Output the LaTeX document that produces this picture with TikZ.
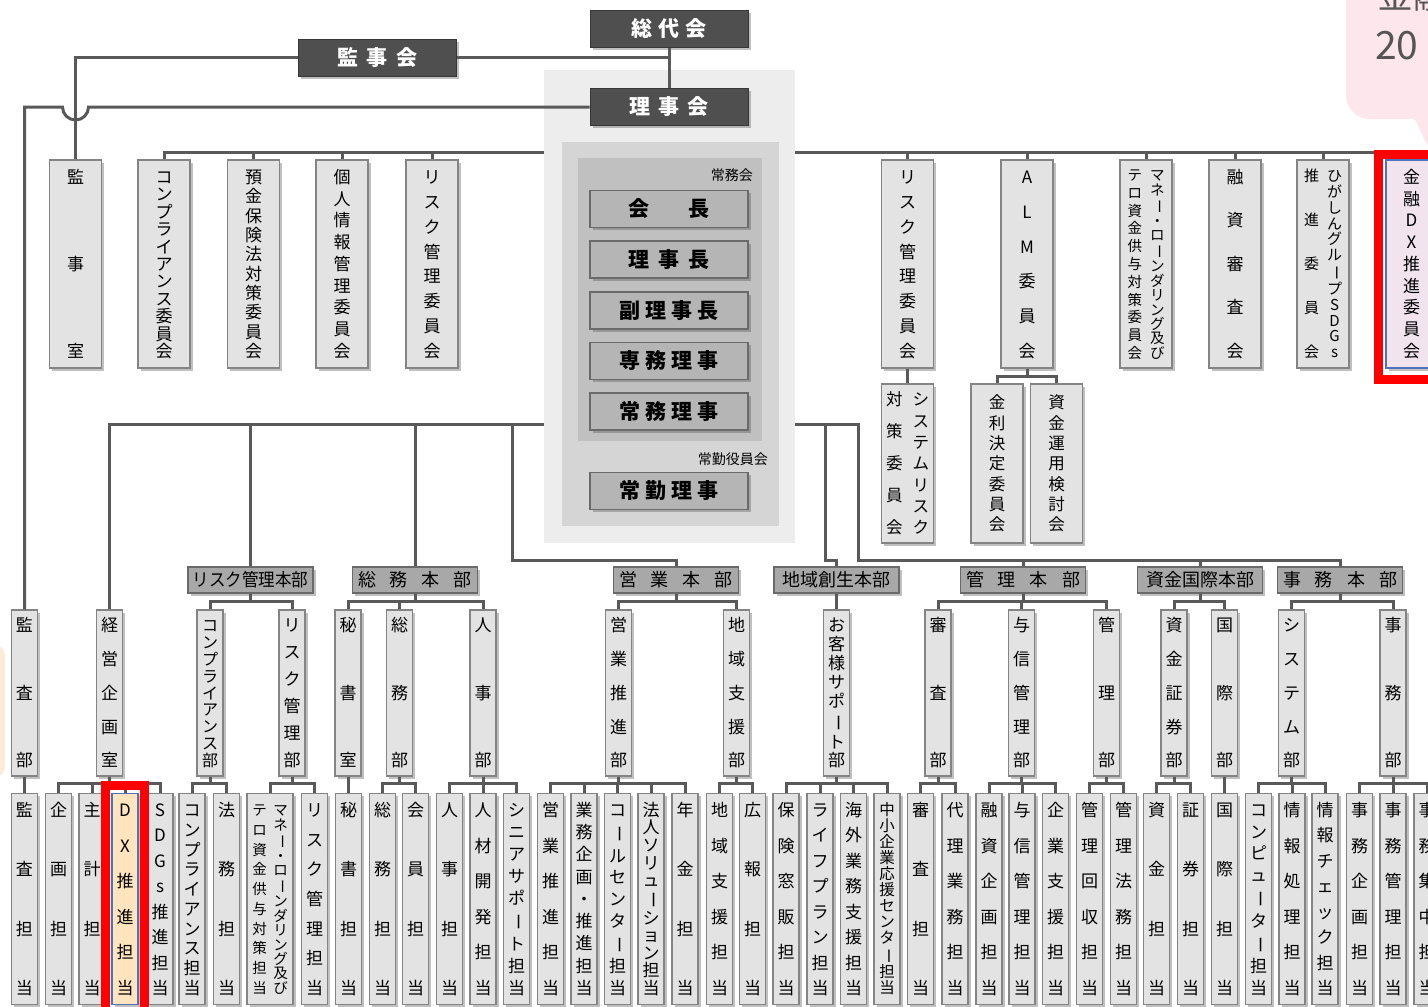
\documentclass[tikz,border=0pt]{standalone}
\usepackage{fontspec}
\setmainfont{Noto Sans CJK JP}
\usepackage{graphicx}
\usetikzlibrary{calc,positioning,shadows}
\definecolor{wire}{HTML}{595959}
\definecolor{boxfill}{HTML}{E3E3E3}
\definecolor{boxedge}{HTML}{848484}
\definecolor{darkfill}{HTML}{4F4F4F}
\definecolor{execfill}{HTML}{B5B5B5}
\definecolor{execedge}{HTML}{6A6A6A}
\definecolor{honfill}{HTML}{A8A8A8}
\definecolor{panelpale}{HTML}{EDEDED}
\definecolor{panelmid}{HTML}{D5D5D5}
\definecolor{paneldark}{HTML}{C0C0C0}
\definecolor{dxblue}{HTML}{4F72BD}
\definecolor{dxpink}{HTML}{F1E4EF}
\definecolor{dxorange}{HTML}{FFE4BD}
\definecolor{dxred}{HTML}{FF0000}
\definecolor{notepink}{HTML}{FDE6EC}
\definecolor{notepeach}{HTML}{FDEBDA}
\definecolor{notetext}{HTML}{555555}

\pgfdeclarelayer{bg}
\pgfdeclarelayer{panel}
\pgfsetlayers{bg,panel,main}

% vertical (tategaki) text: one character per line, spread over a fixed span
\newcommand\vtglyph[1]{\ifx#1ー\rotatebox[origin=c]{-90}{ー}\else#1\fi}
\newcommand\vtchar[1]{\hbox to 1em{\hss\vrule height .88em depth .12em width 0pt\relax\vtglyph{#1}\hss}}
\def\vtfirst#1{\vtchar{#1}\vtrest}
\def\vtrest#1{\ifx#1\relax\else\vskip 0pt plus 1fil minus 1fil\relax\vtchar{#1}\expandafter\vtrest\fi}
\newcommand\vt[2]{\vbox to \dimexpr#1pt+1em\relax{\offinterlineskip\expandafter\vtfirst#2\relax}}
% two columns: span, gap, left column, right column
\newcommand\vtt[4]{\hbox{\vt{#1}{#3}\hskip#2pt\vt{#1}{#4}}}

\begin{document}
\begin{tikzpicture}[x=1pt,y=-1pt,
  conn/.style={draw=wire,line width=3pt},
  boxshadow/.style={drop shadow={shadow xshift=2.5pt,shadow yshift=-2.5pt,opacity=.35,fill=black!70}},
  vbox/.style={draw=boxedge,fill=boxfill,line width=1.1pt,inner sep=0pt,text=black,boxshadow},
  cmte/.style={vbox,minimum width=52pt,minimum height=208pt,font=\fontsize{17}{17}\selectfont},
  subc/.style={vbox,minimum width=52pt,minimum height=159pt,font=\fontsize{16.5}{16.5}\selectfont},
  dept/.style={vbox,minimum width=26pt,minimum height=166pt,font=\fontsize{17}{17}\selectfont},
  task/.style={vbox,minimum width=26pt,minimum height=211pt,font=\fontsize{17}{17}\selectfont},
  topbox/.style={fill=darkfill,draw=darkfill!70!black,line width=1pt,text=white,minimum width=158pt,minimum height=37pt,inner sep=0pt,font=\fontsize{21}{21}\selectfont\bfseries,boxshadow},
  execbox/.style={fill=execfill,draw=execedge,line width=1.2pt,minimum width=158pt,minimum height=37pt,inner sep=0pt,font=\fontsize{21}{21}\selectfont\bfseries,boxshadow},
  honbu/.style={fill=honfill,draw=execedge,line width=1.1pt,minimum width=125pt,minimum height=26pt,inner sep=0pt,font=\fontsize{18}{18}\selectfont,boxshadow},
  tag/.style={font=\fontsize{14}{14}\selectfont,inner sep=0pt},
  redframe/.style={draw=dxred,line width=9pt},
]
\useasboundingbox (0,0) rectangle (1428,1007);

% BACKGROUND + NOTES
\begin{pgfonlayer}{bg}
\fill[white] (0,0) rectangle (1428,1007);
\fill[notepink,rounded corners=24pt] (1346,-40) rectangle (1480,119);
\fill[notepink] (1410,110) -- (1440,110) -- (1428,146) -- cycle;
\fill[notepeach,rounded corners=12pt] (-50,644) rectangle (5,778);
\end{pgfonlayer}
\node[font=\fontsize{36}{36}\selectfont,text=notetext,anchor=base west,inner sep=0pt] (notehead) at (1377,8) {金融};
\node[font=\fontsize{39}{39}\selectfont,text=notetext,anchor=base west,inner sep=0pt] (noteyear) at (1375,59) {20};

% EXECUTIVE PANEL
\begin{pgfonlayer}{panel}
\fill[panelpale] (544,70) rectangle (795,543);
\fill[panelmid] (562,142) rectangle (779,526);
\fill[paneldark] (578,158) rectangle (762,441);
\end{pgfonlayer}
\node[tag,anchor=east] (jomukai) at (753,175) {常務会};
\node[tag,anchor=east] (jokinkai) at (768,459) {常勤役員会};

% TOP BODIES
\node[topbox] (soudai) at (669,28.5) {総\hspace{6pt}代\hspace{6pt}会};
\node[topbox] (kanjikai) at (377.5,57.5) {監\hspace{9pt}事\hspace{9pt}会};
\node[topbox] (riji) at (669,107) {理\hspace{8pt}事\hspace{8pt}会};
\node[execbox] (kaicho) at (669,209) {会\hspace{40pt}長};
\node[execbox] (richo) at (669,259.5) {理\hspace{9pt}事\hspace{9pt}長};
\node[execbox] (fuku) at (669,310.5) {副\hspace{5pt}理\hspace{5pt}事\hspace{5pt}長};
\node[execbox] (senmu) at (669,361) {専\hspace{5pt}務\hspace{5pt}理\hspace{5pt}事};
\node[execbox] (jomu) at (669,411.5) {常\hspace{5pt}務\hspace{5pt}理\hspace{5pt}事};
\node[execbox] (jokin) at (669,491) {常\hspace{5pt}勤\hspace{5pt}理\hspace{5pt}事};

% COMMITTEES
\node[cmte] (kjs) at (75.5,264) {\vt{172}{監事室}};
\node[cmte] (cpc) at (164,264) {\vt{172}{コンプライアンス委員会}};
\node[cmte] (ykc) at (253.5,264) {\vt{172}{預金保険法対策委員会}};
\node[cmte] (kjc) at (342,264) {\vt{172}{個人情報管理委員会}};
\node[cmte] (rkc) at (432,264) {\vt{172}{リスク管理委員会}};
\node[cmte] (rkc2) at (907.5,264) {\vt{172}{リスク管理委員会}};
\node[cmte] (almc) at (1027,264) {\vt{172}{ALM委員会}};
\node[cmte,font=\fontsize{14.5}{14.5}\selectfont] (amlc) at (1146,264) {\vtt{176}{8}{テロ資金供与対策委員会}{マネー・ローンダリング及び}};
\node[cmte] (yss) at (1235,264) {\vt{172}{融資審査会}};
\node[cmte,font=\fontsize{15}{15}\selectfont] (sdgc) at (1323,264) {\vtt{174}{8}{推進委員会}{ひがしんグループSDGs}};
\node[cmte,draw=dxblue,fill=dxpink,minimum width=51pt] (dxc) at (1411.5,264) {\vt{172}{金融DX推進委員会}};
\node[subc] (sysr) at (907.5,463.5) {\vtt{126}{10}{対策委員会}{システムリスク}};
\node[subc] (kinri) at (997,463.5) {\vt{120}{金利決定委員会}};
\node[subc] (shikinc) at (1056.5,463.5) {\vt{120}{資金運用検討会}};

% HEADQUARTERS
\node[honbu] (riskhon) at (250.5,580) {\scalebox{.92}[1]{リスク管理本部}};
\node[honbu] (soumuhon) at (415,580) {総\hspace{14pt}務\hspace{14pt}本\hspace{14pt}部};
\node[honbu] (eigyohon) at (676,580) {営\hspace{14pt}業\hspace{14pt}本\hspace{14pt}部};
\node[honbu] (chiikihon) at (836.5,580) {地域創生本部};
\node[honbu] (kanrihon) at (1023,580) {管\hspace{14pt}理\hspace{14pt}本\hspace{14pt}部};
\node[honbu] (shikinhon) at (1200,580) {資金国際本部};
\node[honbu] (jimuhon) at (1340,580) {事\hspace{14pt}務\hspace{14pt}本\hspace{14pt}部};

% DEPARTMENTS
\node[dept] (kansabu) at (24.5,693) {\vt{133}{監査部}};
\node[dept] (keieishitsu) at (109.5,693) {\vt{133}{経営企画室}};
\node[dept,font=\fontsize{16}{16}\selectfont] (compbu) at (210,693) {\vt{133}{コンプライアンス部}};
\node[dept] (riskbu) at (292,693) {\vt{133}{リスク管理部}};
\node[dept] (hishoshitsu) at (348,693) {\vt{133}{秘書室}};
\node[dept] (soumubu) at (399.5,693) {\vt{133}{総務部}};
\node[dept] (jinjibu) at (483,693) {\vt{133}{人事部}};
\node[dept] (eigyobu) at (618.5,693) {\vt{133}{営業推進部}};
\node[dept] (chiikibu) at (736.5,693) {\vt{133}{地域支援部}};
\node[dept] (okyakubu) at (836.5,693) {\vt{133}{お客様サポート部}};
\node[dept] (shinsabu) at (938,693) {\vt{133}{審査部}};
\node[dept] (yoshinbu) at (1021.5,693) {\vt{133}{与信管理部}};
\node[dept] (kanribu) at (1106.5,693) {\vt{133}{管理部}};
\node[dept] (shikinbu) at (1174,693) {\vt{133}{資金証券部}};
\node[dept] (kokusaibu) at (1224.5,693) {\vt{133}{国際部}};
\node[dept] (systembu) at (1291.5,693) {\vt{133}{システム部}};
\node[dept] (jimubu) at (1393,693) {\vt{133}{事務部}};

% SECTIONS (tanto)
\node[task] (tkansa) at (24.5,899) {\vt{176}{監査担当}};
\node[task] (tkikaku) at (58.5,899) {\vt{176}{企画担当}};
\node[task] (tshukei) at (92,899) {\vt{176}{主計担当}};
\node[task,draw=dxblue,fill=dxorange] (tdx) at (125,899) {\vt{176}{DX推進担当}};
\node[task] (tsdgs) at (160,899) {\vt{176}{SDGs推進担当}};
\node[task] (tcomp) at (192,899) {\vt{176}{コンプライアンス担当}};
\node[task] (thoumu) at (226.5,899) {\vt{176}{法務担当}};
\node[task,minimum width=46pt,font=\fontsize{14.5}{14.5}\selectfont] (taml) at (270,899) {\vtt{176}{6.5}{テロ資金供与対策担当}{マネー・ローンダリング及び}};
\node[task] (trisk) at (314.5,899) {\vt{176}{リスク管理担当}};
\node[task] (thisho) at (348.5,899) {\vt{176}{秘書担当}};
\node[task] (tsoumu) at (382.5,899) {\vt{176}{総務担当}};
\node[task] (tkaiin) at (415.5,899) {\vt{176}{会員担当}};
\node[task] (tjinji) at (449.5,899) {\vt{176}{人事担当}};
\node[task] (tjinzai) at (483,899) {\vt{176}{人材開発担当}};
\node[task] (tsenior) at (516.5,899) {\vt{176}{シニアサポート担当}};
\node[task] (teigyo) at (550.5,899) {\vt{176}{営業推進担当}};
\node[task] (tgyomu) at (584,899) {\vt{176}{業務企画・推進担当}};
\node[task] (tcall) at (617.5,899) {\vt{176}{コールセンター担当}};
\node[task] (thoujin) at (651,899) {\vt{176}{法人ソリューション担当}};
\node[task] (tnenkin) at (685,899) {\vt{176}{年金担当}};
\node[task] (tchiiki) at (719.5,899) {\vt{176}{地域支援担当}};
\node[task] (tkouhou) at (752.5,899) {\vt{176}{広報担当}};
\node[task] (thoken) at (786,899) {\vt{176}{保険窓販担当}};
\node[task] (tlife) at (820,899) {\vt{176}{ライフプラン担当}};
\node[task] (tkaigai) at (853.5,899) {\vt{176}{海外業務支援担当}};
\node[task,font=\fontsize{15.5}{15.5}\selectfont] (tchusho) at (887,899) {\vt{176}{中小企業応援センター担当}};
\node[task] (tshinsa) at (920.5,899) {\vt{176}{審査担当}};
\node[task] (tdairi) at (955,899) {\vt{176}{代理業務担当}};
\node[task] (tyushi) at (989,899) {\vt{176}{融資企画担当}};
\node[task] (tyoshin) at (1022,899) {\vt{176}{与信管理担当}};
\node[task] (tkigyo) at (1055.5,899) {\vt{176}{企業支援担当}};
\node[task] (tkaishu) at (1089.5,899) {\vt{176}{管理回収担当}};
\node[task] (tkanhou) at (1123.5,899) {\vt{176}{管理法務担当}};
\node[task] (tshikin) at (1156.5,899) {\vt{176}{資金担当}};
\node[task] (tshoken) at (1190.5,899) {\vt{176}{証券担当}};
\node[task] (tkokusai) at (1224.5,899) {\vt{176}{国際担当}};
\node[task] (tcomputer) at (1258.5,899) {\vt{176}{コンピューター担当}};
\node[task] (tjoho) at (1292,899) {\vt{176}{情報処理担当}};
\node[task] (tcheck) at (1325,899) {\vt{176}{情報チェック担当}};
\node[task] (tjkikaku) at (1359.5,899) {\vt{176}{事務企画担当}};
\node[task] (tjkanri) at (1393,899) {\vt{176}{事務管理担当}};
\node[task] (tjshuchu) at (1427,899) {\vt{176}{事務集中担当}};

% BUS LEVELS
\coordinate (cbus) at (0,152);
\coordinate (cbusend) at (1440,152);
\coordinate (mbus) at (0,424);
\coordinate (mbusend) at (858,424);
\coordinate (eigyojct) at (512,424);
\coordinate (chiikijct) at (825,424);
\coordinate (rbus) at (0,560);
\coordinate (dbus) at (0,601);
\coordinate (tbus) at (0,783);

% EDGES UNDER THE PANEL
\begin{pgfonlayer}{bg}
\draw[conn] (cpc.north) |- (cbusend);
\foreach \n in {ykc,kjc,rkc,rkc2,almc,amlc,yss,sdgc,dxc}
  \draw[conn] (\n.north) -- (\n.north |- cbus);
\draw[conn] (keieishitsu.north) |- (mbusend) |- (jimuhon.north |- rbus) -- (jimuhon.north);
\draw[conn] (riskhon.north) -- (riskhon.north |- mbus);
\draw[conn] (soumuhon.north) -- (soumuhon.north |- mbus);
\draw[conn] (eigyojct) |- (eigyohon.north |- rbus) -- (eigyohon.north);
\draw[conn] (chiikijct) |- (chiikihon.north |- rbus) -- (chiikihon.north);
\draw[conn] (kanrihon.north) -- (kanrihon.north |- rbus);
\draw[conn] (shikinhon.north) -- (shikinhon.north |- rbus);
\end{pgfonlayer}

% EDGES
\draw[conn] (soudai.south) -- (riji.north);
\draw[conn] (kanjikai.east) -- (kanjikai.east -| soudai.south);
\draw[conn] (kanjikai.west) -| (kjs.north);
\draw[conn] (riji.west) -- ($(kjs.north |- riji.west)+(13,0)$) arc[start angle=0,end angle=180,radius=13] -- (kansabu.north |- riji.west) -- (kansabu.north);
\draw[conn] (rkc2.south) -- (sysr.north);
\foreach \k in {kinri,shikinc}
  \draw[conn] (almc.south) -- ++(0,8) -| (\k.north);
\foreach \p/\kids in {riskhon/{compbu,riskbu}, soumuhon/{hishoshitsu,soumubu,jinjibu}, eigyohon/{eigyobu,chiikibu}, chiikihon/{okyakubu}, kanrihon/{shinsabu,yoshinbu,kanribu}, shikinhon/{shikinbu,kokusaibu}, jimuhon/{systembu,jimubu}}{
  \foreach \k in \kids
    \draw[conn] (\p.south) -- (\p.south |- dbus) -| (\k.north);
}
\foreach \p/\kids in {kansabu/{tkansa}, keieishitsu/{tkikaku,tshukei,tdx,tsdgs}, compbu/{tcomp,thoumu}, riskbu/{taml,trisk}, hishoshitsu/{thisho}, soumubu/{tsoumu,tkaiin}, jinjibu/{tjinji,tjinzai,tsenior}, eigyobu/{teigyo,tgyomu,tcall,thoujin,tnenkin}, chiikibu/{tchiiki,tkouhou}, okyakubu/{thoken,tlife,tkaigai,tchusho}, shinsabu/{tshinsa,tdairi}, yoshinbu/{tyushi,tyoshin,tkigyo}, kanribu/{tkaishu,tkanhou}, shikinbu/{tshikin,tshoken}, kokusaibu/{tkokusai}, systembu/{tcomputer,tjoho,tcheck}, jimubu/{tjkikaku,tjkanri,tjshuchu}}{
  \foreach \k in \kids
    \draw[conn] (\p.south) -- (\p.south |- tbus) -| (\k.north);
}

% DX HIGHLIGHTS
\draw[redframe] ($(dxc.north west)+(-6.5,-4.5)$) rectangle ($(dxc.south east)+(8,10.5)$);
\draw[redframe] ($(tdx.north west)+(-5.5,-7.5)$) rectangle ($(tdx.south east)+(5.5,14)$);
\end{tikzpicture}
\end{document}
